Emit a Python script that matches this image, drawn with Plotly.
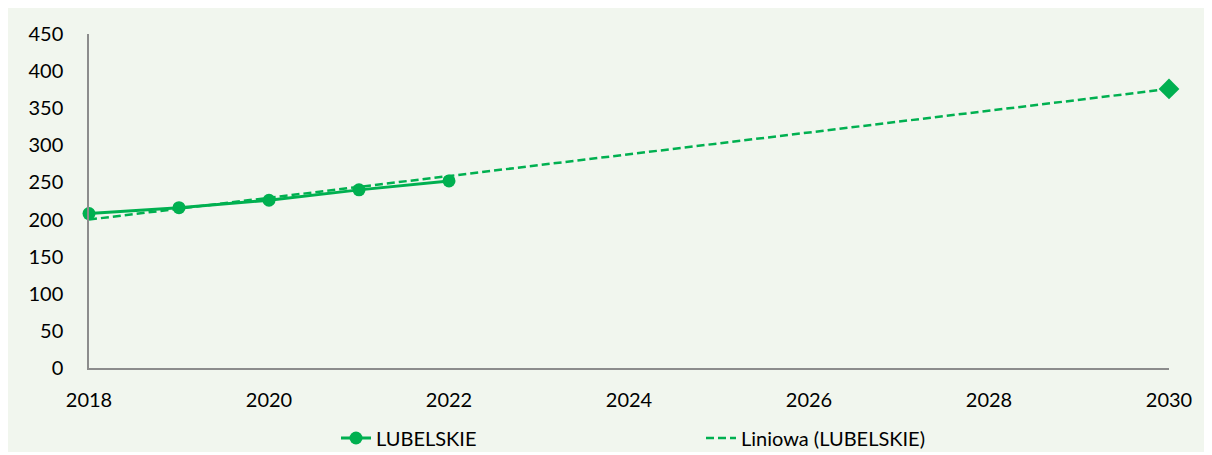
import plotly.graph_objects as go

years = [2018, 2019, 2020, 2021, 2022]
values = [208, 216, 226, 240, 252]
trend_years = [2018, 2030]
trend_values = [200, 376]
forecast_year = [2030]
forecast_value = [376]
x_ticks = [2018, 2020, 2022, 2024, 2026, 2028, 2030]
y_ticks = [0, 50, 100, 150, 200, 250, 300, 350, 400, 450]

GREEN = "#00B050"
BG = "#F1F6EE"
FONT = "Lato"

# page body has an 8px margin; figure spans 8..1207 x 8..452
W, H = 1199, 444
L, R, T, B = 81, 38, 26, 84
pw, ph = W - L - R, H - T - B

fig = go.Figure()
fig.add_trace(go.Scatter(
    x=years, y=values, mode="lines+markers", name="LUBELSKIE",
    line=dict(color=GREEN, width=3),
    marker=dict(color=GREEN, size=13),
    cliponaxis=False,
))
fig.add_trace(go.Scatter(
    x=trend_years, y=trend_values, mode="lines", name="Liniowa (LUBELSKIE)",
    line=dict(color=GREEN, width=2.5, dash="8px,4px"),
    cliponaxis=False,
))
fig.add_trace(go.Scatter(
    x=forecast_year, y=forecast_value, mode="markers", showlegend=False,
    marker=dict(color=GREEN, size=16, symbol="diamond"),
    cliponaxis=False,
))

legend_left_px = 336 - 8
fig.update_layout(
    width=W, height=H,
    margin=dict(l=L, r=R, t=T, b=B, pad=0, autoexpand=False),
    paper_bgcolor=BG, plot_bgcolor=BG,
    font=dict(family=FONT, size=20, color="#000000"),
    showlegend=True,
    legend=dict(orientation="h", x=(legend_left_px - L) / pw, xanchor="left",
                y=-(430 - T - ph) / ph, yanchor="middle",
                entrywidth=320, entrywidthmode="pixels",
                bgcolor="rgba(0,0,0,0)", font=dict(size=20)),
    xaxis=dict(range=[2018, 2030], tickvals=x_ticks, showgrid=False, zeroline=False,
               showline=True, linecolor="#8C8C8C", linewidth=1.5, ticks="",
               ticklabelstandoff=13),
    yaxis=dict(range=[0, 450], tickvals=y_ticks, showgrid=False, zeroline=False,
               showline=True, linecolor="#8C8C8C", linewidth=1.5, ticks="",
               ticklabelstandoff=20),
)

fig.write_html("out.html")
